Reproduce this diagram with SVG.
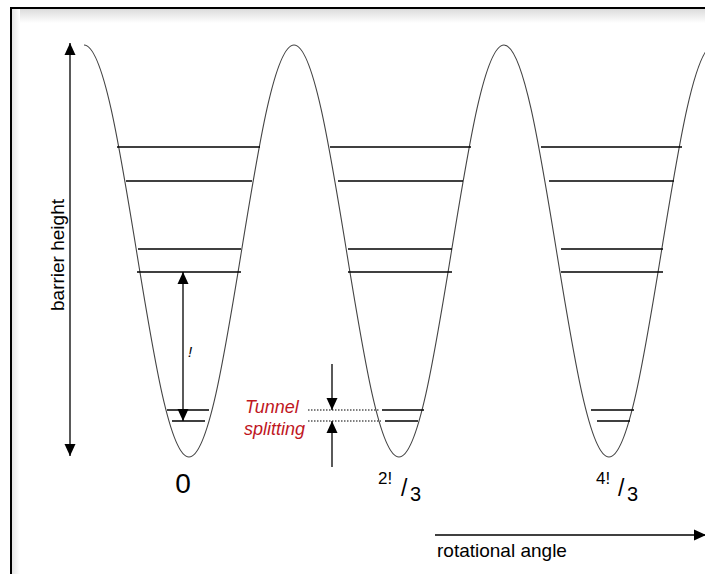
<svg xmlns="http://www.w3.org/2000/svg" width="705" height="574" viewBox="0 0 705 574">
<defs>
<style>
.lvl{stroke:#000;stroke-width:1.3;fill:none}
.ax{stroke:#000;stroke-width:1.3;fill:none}
.dot{stroke:#000;stroke-width:1.2;stroke-dasharray:1.5 1.5;fill:none}
.curve{stroke:#444;stroke-width:1.1;fill:none}
.t{font-family:"Liberation Sans",Arial,sans-serif;fill:#000}
.red{font-family:"Liberation Sans",Arial,sans-serif;font-style:italic;fill:#c0161e;font-size:18px}
</style>
<marker id="ah" viewBox="0 0 12 12" refX="12" refY="6" markerWidth="12" markerHeight="12" markerUnits="userSpaceOnUse" orient="auto">
<path d="M0,0.5 L12,6 L0,11.5 Z" fill="#000"/>
</marker>
<linearGradient id="gTop" x1="0" y1="0" x2="0" y2="1">
<stop offset="0" stop-color="#dcdcdc"/>
<stop offset="1" stop-color="#ffffff"/>
</linearGradient>
<linearGradient id="gLeft" x1="0" y1="0" x2="1" y2="0">
<stop offset="0" stop-color="#e4e4e4"/>
<stop offset="1" stop-color="#ffffff"/>
</linearGradient>
</defs>
<rect x="0" y="0" width="705" height="574" fill="#fff"/>
<g id="frame">
<rect x="12" y="9" width="700" height="14" fill="url(#gTop)"/>
<rect x="12" y="9" width="8" height="570" fill="url(#gLeft)"/>
<rect x="11" y="8" width="720" height="600" fill="none" stroke="#000" stroke-width="2"/>
</g>
<g id="potential">
<path class="curve" d="M84,45 c19,0 35.38,100.47 52.5,206 c17.12,105.53 33.5,206 52.5,206 c19,0 35.38,-100.47 52.5,-206 c17.12,-105.53 33.5,-206 52.5,-206 c19,0 35.38,100.47 52.5,206 c17.12,105.53 33.5,206 52.5,206 c19,0 35.38,-100.47 52.5,-206 c17.12,-105.53 33.5,-206 52.5,-206 c19,0 35.38,100.47 52.5,206 c17.12,105.53 33.5,206 52.5,206 c19,0 35.38,-100.47 52.5,-206 c17.12,-105.53 33.5,-206 52.5,-206"/>
</g>
<g id="well1">
<line class="lvl" x1="117" y1="147" x2="260" y2="147"/>
<line class="lvl" x1="126" y1="181" x2="252" y2="181"/>
<line class="lvl" x1="138" y1="249" x2="241" y2="249"/>
<line class="lvl" x1="137" y1="272" x2="241" y2="272"/>
<line class="lvl" x1="167" y1="410" x2="209" y2="410"/>
<line class="lvl" x1="172" y1="421" x2="205" y2="421"/>
</g>
<g id="well2">
<line class="lvl" x1="330" y1="147" x2="471" y2="147"/>
<line class="lvl" x1="338" y1="181" x2="463" y2="181"/>
<line class="lvl" x1="348" y1="249" x2="452" y2="249"/>
<line class="lvl" x1="348" y1="272" x2="452" y2="272"/>
<line class="lvl" x1="382" y1="410" x2="424" y2="410"/>
<line class="lvl" x1="385" y1="421" x2="418" y2="421"/>
</g>
<g id="well3">
<line class="lvl" x1="541" y1="147" x2="682" y2="147"/>
<line class="lvl" x1="549" y1="181" x2="674" y2="181"/>
<line class="lvl" x1="561" y1="249" x2="663" y2="249"/>
<line class="lvl" x1="561" y1="272" x2="663" y2="272"/>
<line class="lvl" x1="591" y1="410" x2="634" y2="410"/>
<line class="lvl" x1="597" y1="421" x2="630" y2="421"/>
</g>
<g id="connectors">
<line class="ax" x1="70" y1="250" x2="70" y2="43" marker-end="url(#ah)"/>
<line class="ax" x1="70" y1="250" x2="70" y2="456" marker-end="url(#ah)"/>
<line class="ax" x1="183" y1="340" x2="183" y2="272" marker-end="url(#ah)"/>
<line class="ax" x1="183" y1="340" x2="183" y2="421" marker-end="url(#ah)"/>
<line class="ax" x1="332" y1="364" x2="332" y2="410" marker-end="url(#ah)"/>
<line class="ax" x1="332" y1="467" x2="332" y2="421" marker-end="url(#ah)"/>
<line class="dot" x1="308" y1="410" x2="379" y2="410"/>
<line class="dot" x1="308" y1="421" x2="381" y2="421"/>
<line class="ax" x1="435" y1="535" x2="706" y2="535" marker-end="url(#ah)"/>
</g>
<g id="labels">
<text class="t" x="0" y="0" font-size="19" text-anchor="middle" transform="translate(64,255) rotate(-90)">barrier height</text>
<text class="t" x="190" y="357" font-size="15" font-style="italic" text-anchor="middle">!</text>
<text class="red" x="245" y="413">Tunnel</text>
<text class="red" x="244" y="435">splitting</text>
<text class="t" x="183" y="493" font-size="28" text-anchor="middle">0</text>
<text class="t" x="378" y="484" font-size="17">2!</text>
<text class="t" x="401" y="496" font-size="23">/</text>
<text class="t" x="410" y="501" font-size="20">3</text>
<text class="t" x="596" y="484" font-size="17">4!</text>
<text class="t" x="618" y="496" font-size="23">/</text>
<text class="t" x="627" y="501" font-size="20">3</text>
<text class="t" x="437" y="557" font-size="19">rotational angle</text>
</g>
</svg>
